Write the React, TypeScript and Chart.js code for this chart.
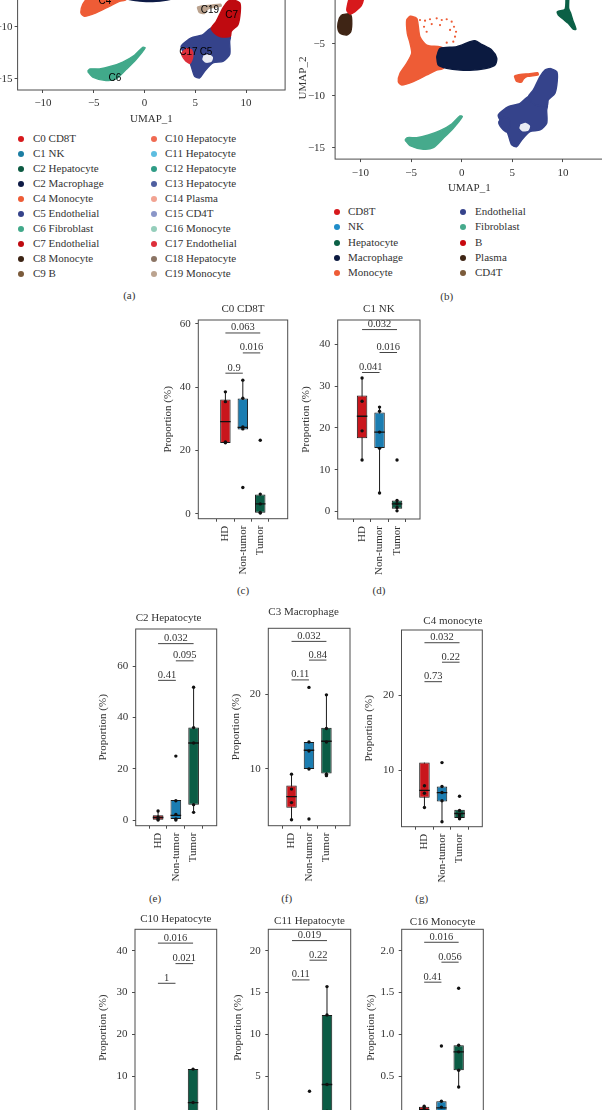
import React, { useEffect, useRef } from 'react';
import { Chart, registerables } from 'chart.js';

Chart.register(...registerables);

const SERIF = '"Liberation Serif", "Times New Roman", serif';
const SANS = '"Liberation Sans", Arial, sans-serif';
const TEXT = '#333333';
const AXIS = '#4d4d4d';
const TITLE_LH = 13.2;

/* ---------------- UMAP legends ---------------- */
const clusterNames = ['C0 CD8T', 'C1 NK', 'C2 Hepatocyte', 'C2 Macrophage', 'C4 Monocyte', 'C5 Endothelial', 'C6 Fibroblast', 'C7 Endothelial', 'C8 Monocyte', 'C9 B', 'C10 Hepatocyte', 'C11 Hepatocyte', 'C12 Hepatocyte', 'C13 Hepatocyte', 'C14 Plasma', 'C15 CD4T', 'C16 Monocyte', 'C17 Endothelial', 'C18 Hepatocyte', 'C19 Monocyte'];
const clusterColors = ['#D7191C', '#1C7EA3', '#0C5A42', '#0E1B46', '#EE5C36', '#35438B', '#41A98A', '#BF0A10', '#3C2414', '#7B5B3B', '#F06A52', '#5DBDE0', '#2F9C86', '#4F5FA0', '#F2A392', '#8A96C8', '#95CEBB', '#DD2E3A', '#8B7464', '#BBA38F'];
const cellTypeNames = ['CD8T', 'NK', 'Hepatocyte', 'Macrophage', 'Monocyte', 'Endothelial', 'Fibroblast', 'B', 'Plasma', 'CD4T'];
const cellTypeColors = ['#D7191C', '#1F8DC9', '#0B6046', '#0B1A40', '#EE5C36', '#35438B', '#46AA8C', '#C8080E', '#3F2515', '#7B5B3B'];

/* ---------------- UMAP cluster outlines [UMAP_1, UMAP_2] ---------------- */
const umapMonocyte = [[-5.10, -2.34], [-4.44, -2.56], [-4.28, -3.37], [-4.12, -4.33], [-3.46, -5.13], [-1.81, -5.44], [-1.81, -7.37], [-2.47, -7.53], [-3.46, -8.01], [-4.78, -8.65], [-5.92, -8.97], [-6.26, -8.65], [-6.09, -7.85], [-5.43, -6.88], [-4.94, -5.92], [-5.10, -4.96], [-5.37, -4.0], [-5.43, -2.72]];
const umapMacrophage = [[-2.47, -6.25], [-2.14, -5.44], [-0.49, -5.29], [0.82, -4.81], [1.31, -4.71], [1.97, -5.06], [2.96, -5.61], [3.46, -6.40], [3.29, -7.05], [2.47, -7.37], [1.15, -7.53], [-0.17, -7.53], [-1.48, -7.37], [-2.31, -7.05]];
const umapHepatocyte = [[10.30, -0.3], [10.56, -0.3], [10.56, -1.60], [10.76, -2.08], [10.96, -2.72], [11.28, -3.61], [11.02, -3.61], [10.52, -3.04], [10.03, -2.65], [9.54, -2.24], [9.44, -1.92], [10.20, -1.69]];
const umapPlasma = [[-11.85, -2.24], [-11.03, -2.14], [-10.86, -2.72], [-10.96, -3.85], [-11.35, -4.16], [-12.01, -4.0], [-12.24, -3.37], [-12.08, -2.56]];
const umapCD8T = [[-11.03, -0.3], [-9.71, -0.3], [-9.88, -1.28], [-10.54, -1.92], [-11.03, -2.14], [-11.35, -1.76]];
const umapC19 = [[5.2, -8.1], [5.8, -7.95], [6.6, -7.9], [7.5, -7.8], [7.55, -8.0], [6.5, -8.15], [6.1, -8.4], [5.9, -8.7], [5.4, -8.6]];
const umapC5 = [[6.9, -10.6], [7.5, -10.95], [8.45, -10.9], [8.39, -11.38], [8.39, -12.65], [7.73, -13.30], [6.74, -13.46], [5.92, -14.26], [5.43, -14.9], [4.94, -14.74], [4.60, -13.78], [4.27, -12.98], [3.78, -12.34], [3.61, -11.86], [4.11, -11.38], [4.60, -11.06], [5.76, -10.73], [6.58, -10.10]];
const umapC7 = [[8.72, -7.37], [9.38, -7.69], [9.44, -8.49], [9.21, -9.77], [8.55, -10.41], [8.45, -10.9], [7.5, -10.95], [6.9, -10.6], [6.58, -10.10], [7.07, -9.45], [7.73, -8.17], [8.22, -7.53]];
const umapC17 = [[4.16, -12.05], [4.65, -12.21], [4.75, -12.86], [4.48, -13.49], [3.99, -13.17], [3.66, -12.53]];
const umapFibroblast = [[-5.60, -14.26], [-5.10, -14.81], [-3.79, -15.15], [-2.80, -15.0], [-1.82, -14.10], [-0.83, -13.13], [0.06, -12.02], [-0.17, -11.95], [-0.99, -12.72], [-2.14, -13.37], [-3.29, -13.78], [-4.44, -14.04], [-5.37, -14.04]];
const umapEndoGap = [[5.8, -12.75], [6.3, -12.6], [6.75, -12.9], [6.6, -13.35], [6.05, -13.45], [5.7, -13.15]];
const umapMonocyteSparse = [[-4.12, -2.72], [-3.62, -2.79], [-3.13, -2.65], [-2.47, -2.56], [-1.97, -2.72], [-1.48, -2.65], [-0.99, -2.88], [-0.76, -3.37], [-0.56, -3.85], [-0.66, -4.33], [-0.83, -4.81], [-1.48, -4.90], [-3.72, -3.37], [-3.46, -3.85], [-2.96, -3.11], [-2.14, -3.21], [-1.15, -3.68]];

// [outline, cluster index, cell type index]
const umapShapes: [number[][], number, number][] = [
  [umapMonocyte, 4, 4],
  [umapMacrophage, 3, 3],
  [umapHepatocyte, 2, 2],
  [umapPlasma, 14, 8],
  [umapCD8T, 0, 0],
  [umapC19, 19, 4],
  [umapC5, 5, 5],
  [umapC7, 7, 5],
  [umapC17, 17, 5],
  [umapFibroblast, 6, 6],
];
const umapClusterLabels = ['C4', 'C19', 'C7', 'C17', 'C5', 'C6'];
const umapClusterLabelPos = [[-3.89, -7.57], [6.45, -8.43], [8.59, -8.85], [4.32, -12.47], [6.06, -12.47], [-2.91, -14.93]];

/* ---------------- Box plot data ---------------- */
const groups = ['HD', 'Non-tumor', 'Tumor'];
const groupColors = ['#C9161C', '#1B7DB1', '#0B5C45'];

// per group: [q1, median, q3, lower whisker, upper whisker]
const c0Stats = [[22.3, 29.1, 36.1, 22.3, 38.5], [26.6, 27.3, 36.4, 26.6, 42.2], [0.3, 3.1, 6.1, 0.2, 6.1]];
const c0Points = [[38.5, 35.4, 22.7, 22.4], [42.2, 36.5, 27.4, 26.8, 8.3], [23.2, 6.2, 3.1, 0.4, 0.2]];
const c0Signif: [number, number, number, string][] = [[1, 3, 57.1, '0.063'], [2, 3, 50.8, '0.016'], [1, 2, 44.4, '0.9']];

const c1Stats = [[17.5, 22.8, 27.8, 12.3, 32.0], [15.2, 19.0, 23.7, 4.4, 25.0], [0.6, 1.8, 2.6, 0.1, 2.6]];
const c1Points = [[32.0, 26.4, 19.3, 12.3], [25.0, 24.0, 19.0, 15.1, 4.4], [12.3, 2.6, 1.8, 0.9, 0.1]];
const c1Signif: [number, number, number, string][] = [[1, 3, 43.6, '0.032'], [2, 3, 38.1, '0.016'], [1, 2, 33.3, '0.041']];

const c2Stats = [[0.2, 1.1, 2.0, 0.0, 3.6], [0.5, 1.9, 7.9, 0.0, 7.9], [6.1, 30.1, 36.1, 3.1, 51.8]];
const c2Points = [[3.6, 1.2, 0.5, 0.1], [25.0, 7.6, 2.3, 0.5, 0.1], [51.8, 36.1, 30.1, 6.1, 3.1]];
const c2Signif: [number, number, number, string][] = [[1, 3, 68.8, '0.032'], [2, 3, 62.1, '0.095'], [1, 2, 54.5, '0.41']];

const c3Stats = [[4.8, 6.3, 7.8, 3.2, 9.3], [10.0, 12.5, 13.6, 10.0, 13.6], [9.4, 13.7, 15.5, 9.1, 19.9]];
const c3Points = [[9.3, 7.3, 5.5, 3.2], [20.9, 13.6, 12.4, 10.0, 3.3], [19.9, 15.4, 13.6, 9.3, 9.1]];
const c3Signif: [number, number, number, string][] = [[1, 3, 27.05, '0.032'], [2, 3, 24.55, '0.84'], [1, 2, 21.9, '0.11']];

const c4Stats = [[6.3, 7.3, 11.0, 5.0, 11.0], [5.8, 7.0, 7.8, 3.1, 7.8], [3.6, 4.2, 4.7, 3.5, 4.7]];
const c4Points = [[7.9, 6.9, 5.0], [11.0, 7.8, 7.0, 5.9, 3.1], [6.5, 4.6, 4.0, 3.7, 3.5]];
const c4Signif: [number, number, number, string][] = [[1, 3, 27.0, '0.032'], [2, 3, 24.4, '0.22'], [1, 2, 21.8, '0.73']];

const c10Stats = [[0.0, 0.05, 0.1, 0.0, 0.2], [0.0, 0.1, 0.2, 0.0, 0.3], [0.6, 3.7, 11.7, 0.2, 11.7]];
const c10Points = [[0.2, 0.1, 0.0, 0.0], [0.3, 0.2, 0.1, 0.0, 0.0], [11.7, 3.7, 0.6, 0.2]];
const c10Signif: [number, number, number, string][] = [[1, 3, 41.8, '0.016'], [2, 3, 36.9, '0.021'], [1, 2, 32.2, '1']];

const c11Stats = [[0.05, 0.1, 0.2, 0.0, 0.3], [0.1, 0.2, 0.4, 0.0, 0.6], [0.8, 4.0, 12.3, 0.3, 15.7]];
const c11Points = [[0.3, 0.15, 0.05, 0.0], [3.2, 0.4, 0.2, 0.1, 0.0], [15.7, 12.3, 4.0, 0.8, 0.3]];
const c11Signif: [number, number, number, string][] = [[1, 3, 21.2, '0.019'], [2, 3, 18.86, '0.22'], [1, 2, 16.5, '0.11']];

const c16Stats = [[0.06, 0.1, 0.135, 0.04, 0.14], [0.05, 0.12, 0.2, 0.02, 0.2], [0.57, 0.79, 0.87, 0.37, 0.87]];
const c16Points = [[0.14, 0.12, 0.08, 0.05], [0.86, 0.2, 0.13, 0.07, 0.02], [1.55, 0.87, 0.79, 0.57, 0.37]];
const c16Signif: [number, number, number, string][] = [[1, 3, 2.10, '0.016'], [2, 3, 1.862, '0.056'], [1, 2, 1.623, '0.41']];

/* ---------------- layout ---------------- */
type BoxPanel = {
  title: string; align: 'start' | 'center' | 'end'; titleY: number;
  stats: number[][]; points: number[][]; signif: [number, number, number, string][];
  L: number; R: number; T: number; B: number; yTitleX: number;
  xMin: number; xMax: number; yMin: number; yMax: number; step: number; decimals: number;
};

const boxPanels: BoxPanel[] = [
  { title: 'C0 CD8T', align: 'center', titleY: 309.5, stats: c0Stats, points: c0Points, signif: c0Signif, L: 198.3, R: 287.7, T: 320, B: 518.7, yTitleX: 168.3, xMin: 0.30, xMax: 3.72, yMin: -1.58, yMax: 61.2, step: 20, decimals: 0 },
  { title: 'C1 NK', align: 'center', titleY: 309.5, stats: c1Stats, points: c1Points, signif: c1Signif, L: 337.7, R: 420, T: 320, B: 519, yTitleX: 306.7, xMin: 0.39, xMax: 3.53, yMin: -1.85, yMax: 45.9, step: 10, decimals: 0 },
  { title: 'C2 Hepatocyte', align: 'start', titleY: 618.3, stats: c2Stats, points: c2Points, signif: c2Signif, L: 135.7, R: 216.7, T: 629, B: 825.7, yTitleX: 103.3, xMin: 0.50, xMax: 3.54, yMin: -2.1, yMax: 74.5, step: 20, decimals: 0 },
  { title: 'C3 Macrophage', align: 'start', titleY: 611.7, stats: c3Stats, points: c3Points, signif: c3Signif, L: 268.3, R: 350, T: 628.3, B: 825.7, yTitleX: 236.7, xMin: 0.45, xMax: 3.57, yMin: 2.41, yMax: 28.8, step: 10, decimals: 0 },
  { title: 'C4 monocyte', align: 'end', titleY: 620.7, stats: c4Stats, points: c4Points, signif: c4Signif, L: 401.5, R: 482.3, T: 630, B: 826.7, yTitleX: 370, xMin: 0.46, xMax: 3.53, yMin: 2.44, yMax: 28.7, step: 10, decimals: 0 },
  { title: 'C10 Hepatocyte', align: 'center', titleY: 919.3, stats: c10Stats, points: c10Points, signif: c10Signif, L: 135, R: 216.7, T: 929.3, B: 1126, yTitleX: 103.3, xMin: 0.47, xMax: 3.57, yMin: -1.9, yMax: 45.1, step: 10, decimals: 0 },
  { title: 'C11 Hepatocyte', align: 'center', titleY: 920.7, stats: c11Stats, points: c11Points, signif: c11Signif, L: 268.3, R: 350.7, T: 929.3, B: 1126, yTitleX: 238.3, xMin: 0.43, xMax: 3.57, yMin: -0.96, yMax: 22.55, step: 5, decimals: 0 },
  { title: 'C16 Monocyte', align: 'center', titleY: 922.3, stats: c16Stats, points: c16Points, signif: c16Signif, L: 401.7, R: 483.3, T: 929.3, B: 1126, yTitleX: 371.7, xMin: 0.485, xMax: 3.64, yMin: -0.096, yMax: 2.255, step: 0.5, decimals: 1 },
];

type UmapPanel = {
  colorBy: 'cluster' | 'cell'; labels: boolean; yTickPad: number;
  L: number; R: number; T: number; B: number; yW: number; xH: number;
  xMin: number; xMax: number; yMin: number; yMax: number;
};
const umapPanels: UmapPanel[] = [
  { colorBy: 'cluster', labels: true, yTickPad: 2, L: 17.6, R: 285.1, T: -4.2, B: 90, yW: 37.6, xH: 36.1, xMin: -12.5, xMax: 13.85, yMin: -16.06, yMax: -7.0 },
  { colorBy: 'cell', labels: false, yTickPad: 7, L: 335.1, R: 603.5, T: -3.1, B: 159.1, yW: 38.1, xH: 35.5, xMin: -12.5, xMax: 14.0, yMin: -16.1, yMax: -0.5 },
];

const captions: [string, number, number][] = [['(a)', 129.3, 295], ['(b)', 446.7, 296], ['(c)', 243, 590], ['(d)', 379, 590], ['(e)', 155, 898], ['(f)', 286.7, 898], ['(g)', 421.7, 898]];

/* ---------------- helpers ---------------- */
function geom(L: number, R: number, T: number, B: number, yW: number, topY: number, xH: number, rightPad: number) {
  const left = Math.round(L - yW);
  const top = Math.floor(topY);
  const width = Math.ceil(R + rightPad - left);
  const height = Math.ceil(B + xH - top);
  return { left, top, width, height, yW: L - left, padTop: T - top, topOff: topY - top, padRight: left + width - R, padBottom: Math.max(0, top + height - B - xH) };
}

const minus = (v: number) => String(v).replace('-', '\u2212');

const framePlugin = {
  id: 'frame',
  afterDatasetsDraw(chart: any) {
    const { ctx, chartArea: a } = chart;
    ctx.save();
    ctx.strokeStyle = AXIS;
    ctx.lineWidth = 1;
    ctx.strokeRect(a.left, a.top, a.right - a.left, a.bottom - a.top);
    ctx.restore();
  },
};

function axisGrid() {
  return { display: true, drawOnChartArea: false, drawTicks: true, tickLength: 3, color: AXIS, lineWidth: 1 };
}

function ChartCanvas({ left, top, width, height, build }: { left: number; top: number; width: number; height: number; build: () => any }) {
  const ref = useRef<HTMLCanvasElement>(null);
  useEffect(() => {
    const chart = new Chart(ref.current as HTMLCanvasElement, build());
    return () => chart.destroy();
  }, []);
  return <canvas ref={ref} width={width} height={height} style={{ position: 'absolute', left, top, width, height }} />;
}

function buildBox(p: BoxPanel, g: ReturnType<typeof geom>) {
  const whiskers: any[] = [];
  const medians: any[] = [];
  const dots: any[] = [];
  const brackets: any[] = [];
  p.stats.forEach((s, i) => {
    whiskers.push({ x: i + 1, y: s[3] }, { x: i + 1, y: s[4] }, { x: i + 1, y: null });
    medians.push({ x: i + 0.7, y: s[1] }, { x: i + 1.3, y: s[1] }, { x: i + 1.3, y: null });
  });
  p.points.forEach((arr, i) => arr.forEach((v) => dots.push({ x: i + 1, y: v })));
  p.signif.forEach(([a, b, lvl]) => brackets.push({ x: a, y: lvl }, { x: b, y: lvl }, { x: b, y: null }));

  const signifText = {
    id: 'signifText',
    afterDatasetsDraw(chart: any) {
      const { ctx } = chart;
      const x = chart.scales.x;
      const y = chart.scales.y;
      ctx.save();
      ctx.font = `10.5px ${SERIF}`;
      ctx.fillStyle = TEXT;
      ctx.textAlign = 'center';
      ctx.textBaseline = 'alphabetic';
      p.signif.forEach(([a, b, lvl, label]) => {
        ctx.fillText(label, (x.getPixelForValue(a) + x.getPixelForValue(b)) / 2, y.getPixelForValue(lvl) - 2.5);
      });
      ctx.restore();
    },
  };

  const font = { family: SERIF, size: 11 };
  const padBottomTitle = Math.max(0, g.padTop - g.topOff - TITLE_LH);
  return {
    type: 'scatter',
    data: {
      datasets: [
        { type: 'line', data: whiskers, showLine: true, spanGaps: false, borderColor: '#1a1a1a', borderWidth: 1, pointRadius: 0, fill: false, order: 5 },
        { type: 'bar', data: p.stats.map((s, i) => ({ x: i + 1, y: [s[0], s[2]] })), backgroundColor: groupColors, borderColor: '#1a1a1a', borderWidth: 1, borderSkipped: false, barPercentage: 0.6, categoryPercentage: 1, order: 4 },
        { type: 'line', data: medians, showLine: true, spanGaps: false, borderColor: '#111111', borderWidth: 1.3, pointRadius: 0, fill: false, order: 3 },
        { type: 'scatter', data: dots, pointRadius: 1.7, backgroundColor: '#111111', borderWidth: 0, order: 2 },
        { type: 'line', data: brackets, showLine: true, spanGaps: false, borderColor: '#444444', borderWidth: 1, pointRadius: 0, fill: false, order: 1 },
      ],
    },
    options: {
      responsive: false, animation: false, devicePixelRatio: 1, events: [],
      layout: { padding: { left: 0, top: 0, right: g.padRight, bottom: g.padBottom } },
      plugins: {
        legend: { display: false }, tooltip: { enabled: false },
        title: { display: true, text: p.title, align: p.align, fullSize: false, color: TEXT, font: { family: SERIF, size: 11, weight: 'normal' }, padding: { top: g.topOff, bottom: padBottomTitle } },
      },
      scales: {
        x: {
          type: 'linear', min: p.xMin, max: p.xMax,
          afterBuildTicks: (s: any) => { s.ticks = groups.map((_, i) => ({ value: i + 1 })); },
          afterFit: (s: any) => { s.height = 60; },
          ticks: { callback: (v: number) => groups[Math.round(v) - 1] ?? '', minRotation: 90, maxRotation: 90, autoSkip: false, padding: 4, font, color: TEXT },
          grid: axisGrid(), border: { display: false },
        },
        y: {
          type: 'linear', min: p.yMin, max: p.yMax,
          afterFit: (s: any) => { s.width = g.yW; },
          ticks: { stepSize: p.step, includeBounds: false, padding: 4.5, font, color: TEXT, callback: (v: number) => Number(v).toFixed(p.decimals) },
          grid: axisGrid(), border: { display: false },
          title: { display: true, text: 'Proportion (%)', color: TEXT, font, padding: 0 },
        },
      },
    },
    plugins: [framePlugin, signifText],
  };
}

function buildUmap(p: UmapPanel, g: ReturnType<typeof geom>) {
  const colorOf = (ci: number, ti: number) => (p.colorBy === 'cluster' ? clusterColors[ci] : cellTypeColors[ti]);
  const closed = (pts: number[][]) => [...pts, pts[0]].map(([x, y]) => ({ x, y }));
  const datasets: any[] = [];
  const n = umapShapes.length + 3;
  let k = 0;
  const addShape = (pts: number[][], color: string, bw: number) => {
    datasets.push({ type: 'line', data: closed(pts), showLine: true, fill: 'shape', backgroundColor: color, borderColor: color, borderWidth: bw, pointRadius: 0, tension: 0.25, order: n - k });
    k++;
  };
  umapShapes.forEach(([pts, ci, ti], idx) => {
    addShape(pts, colorOf(ci, ti), 1.4);
    if (idx === 0) {
      datasets.push({ type: 'scatter', data: umapMonocyteSparse.map(([x, y]) => ({ x, y })), pointRadius: 1.1, backgroundColor: colorOf(4, 4), borderWidth: 0, order: n - k });
      k++;
    }
    if (pts === umapC17) addShape(umapEndoGap, '#e9ebf3', 0);
  });

  const labelPlugin = {
    id: 'clusterLabels',
    afterDatasetsDraw(chart: any) {
      if (!p.labels) return;
      const { ctx } = chart;
      const x = chart.scales.x;
      const y = chart.scales.y;
      ctx.save();
      ctx.font = `10px ${SANS}`;
      ctx.fillStyle = '#000000';
      ctx.textAlign = 'center';
      ctx.textBaseline = 'middle';
      umapClusterLabels.forEach((lab, i) => {
        ctx.fillText(lab, x.getPixelForValue(umapClusterLabelPos[i][0]), y.getPixelForValue(umapClusterLabelPos[i][1]));
      });
      ctx.restore();
    },
  };

  const font = { family: SERIF, size: 11 };
  return {
    type: 'scatter',
    data: { datasets },
    options: {
      responsive: false, animation: false, devicePixelRatio: 1, events: [],
      layout: { padding: { left: 0, top: g.padTop, right: g.padRight, bottom: g.padBottom } },
      plugins: { legend: { display: false }, tooltip: { enabled: false } },
      scales: {
        x: {
          type: 'linear', min: p.xMin, max: p.xMax,
          afterFit: (s: any) => { s.height = p.xH; },
          ticks: { stepSize: 5, includeBounds: false, padding: 4, font, color: TEXT, maxRotation: 0, callback: (v: number) => minus(v) },
          grid: axisGrid(), border: { display: false },
          title: { display: true, text: 'UMAP_1', color: TEXT, font, padding: 0 },
        },
        y: {
          type: 'linear', min: p.yMin, max: p.yMax,
          afterFit: (s: any) => { s.width = g.yW; },
          ticks: { stepSize: 5, includeBounds: false, padding: p.yTickPad, font, color: TEXT, callback: (v: number) => minus(v) },
          grid: axisGrid(), border: { display: false },
          title: { display: true, text: 'UMAP_2', color: TEXT, font, padding: 0 },
        },
      },
    },
    plugins: [framePlugin, labelPlugin],
  };
}

function Label({ text, x, y }: { text: string; x: number; y: number }) {
  return <div style={{ position: 'absolute', left: x, top: y, transform: 'translate(-50%, -50%)', font: `11px ${SERIF}`, color: TEXT, whiteSpace: 'nowrap' }}>{text}</div>;
}

function LegendItem({ text, color, dotX, textX, y }: { text: string; color: string; dotX: number; textX: number; y: number }) {
  return (
    <>
      <div style={{ position: 'absolute', left: dotX - 3, top: y - 3, width: 6, height: 6, borderRadius: 3, background: color }} />
      <div style={{ position: 'absolute', left: textX, top: y - 7, height: 14, lineHeight: '14px', font: `11px ${SERIF}`, color: TEXT, whiteSpace: 'nowrap' }}>{text}</div>
    </>
  );
}

export default function App() {
  return (
    <div style={{ position: 'fixed', left: 0, top: 0, width: 602, height: 1110, overflow: 'hidden', background: '#ffffff' }}>
      {umapPanels.map((p, i) => {
        const g = geom(p.L, p.R, p.T, p.B, p.yW, p.T - 24, p.xH, 6);
        return <ChartCanvas key={'u' + i} left={g.left} top={g.top} width={g.width} height={g.height} build={() => buildUmap(p, g)} />;
      })}
      {clusterNames.map((name, i) => (
        <LegendItem key={'cl' + i} text={name} color={clusterColors[i]} dotX={i < 10 ? 20.7 : 154} textX={i < 10 ? 33 : 165} y={139.3 + (i % 10) * 15.0} />
      ))}
      {cellTypeNames.map((name, i) => (
        <LegendItem key={'ct' + i} text={name} color={cellTypeColors[i]} dotX={i < 5 ? 337.3 : 463.3} textX={i < 5 ? 348 : 475} y={212.3 + (i % 5) * 15.15} />
      ))}
      {boxPanels.map((p, i) => {
        const g = geom(p.L, p.R, p.T, p.B, p.L - (p.yTitleX - 6.6), p.titleY - TITLE_LH / 2, 60, 10);
        return <ChartCanvas key={'b' + i} left={g.left} top={g.top} width={g.width} height={g.height} build={() => buildBox(p, g)} />;
      })}
      {captions.map(([t, x, y]) => <Label key={t} text={t} x={x} y={y} />)}
    </div>
  );
}
